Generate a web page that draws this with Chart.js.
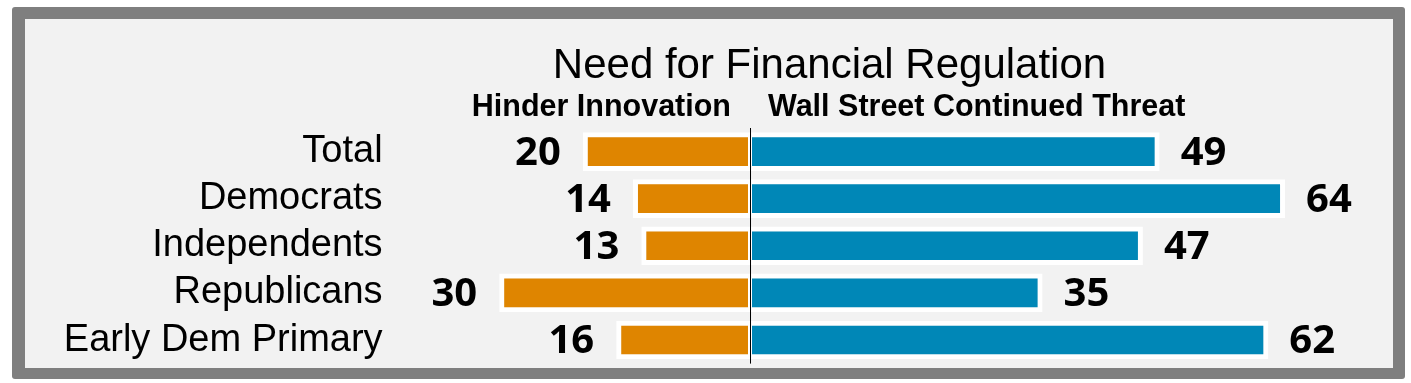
<!DOCTYPE html>
<html>
<head>
<meta charset="utf-8">
<script src="https://cdn.jsdelivr.net/npm/chart.js@4/dist/chart.umd.min.js"></script>
<style>
  html, body { margin: 0; padding: 0; background: #ffffff; }
  canvas { display: block; }
</style>
</head>
<body>
<canvas id="c" width="1411" height="383"></canvas>
<script>
const categories = ['Total', 'Democrats', 'Independents', 'Republicans', 'Early Dem Primary'];
const hinderInnovation = [20, 14, 13, 30, 16];
const wallStreetThreat = [49, 64, 47, 35, 62];
const chartTitle = 'Need for Financial Regulation';
const leftHeader = 'Hinder Innovation';
const rightHeader = 'Wall Street Continued Threat';
const xMin = -40, xMax = 70;

const ORANGE = '#DF8500';
const BLUE = '#0087B7';
const SANS = '"Liberation Sans", Arial, sans-serif';
const NUMFONT = '"Open Sans", "Liberation Sans", sans-serif';

const framePlugin = {
  id: 'frame',
  beforeDraw(chart) {
    const ctx = chart.ctx;
    ctx.save();
    ctx.fillStyle = '#ffffff';
    ctx.fillRect(0, 0, chart.width, chart.height);
    ctx.fillStyle = '#7F7F7F';
    ctx.beginPath();
    ctx.roundRect(12, 7, 1393, 372, 3);
    ctx.fill();
    ctx.fillStyle = '#F2F2F2';
    ctx.fillRect(25, 19, 1368, 349);
    ctx.restore();
  }
};

const overlayPlugin = {
  id: 'overlay',
  afterDatasetsDraw(chart) {
    const ctx = chart.ctx;
    const xs = chart.scales.x;
    const area = chart.chartArea;
    const x0 = Math.round(xs.getPixelForValue(0)) + 0.5;
    ctx.save();
    // zero line
    ctx.strokeStyle = '#000000';
    ctx.lineWidth = 1;
    ctx.beginPath();
    ctx.moveTo(x0, area.top);
    ctx.lineTo(x0, area.bottom);
    ctx.stroke();
    // value labels
    ctx.fillStyle = '#000000';
    ctx.font = 'bold 40px ' + NUMFONT;
    ctx.textBaseline = 'middle';
    chart.data.datasets.forEach((ds, di) => {
      const meta = chart.getDatasetMeta(di);
      meta.data.forEach((bar, i) => {
        const v = ds.data[i];
        const txt = String(Math.abs(v));
        if (v < 0) {
          ctx.textAlign = 'right';
          ctx.fillText(txt, bar.x - 22, bar.y + 2);
        } else {
          ctx.textAlign = 'left';
          ctx.fillText(txt, bar.x + 21, bar.y + 2);
        }
      });
    });
    // title and column headers
    ctx.textBaseline = 'alphabetic';
    ctx.textAlign = 'center';
    ctx.font = '42px ' + SANS;
    ctx.fillText(chartTitle, 829.5, 78);
    ctx.font = 'bold 30.5px ' + SANS;
    ctx.textAlign = 'right';
    ctx.fillText(leftHeader, 731, 116);
    ctx.textAlign = 'left';
    ctx.fillText(rightHeader, 768, 116);
    ctx.restore();
  }
};

new Chart(document.getElementById('c'), {
  type: 'bar',
  data: {
    labels: categories,
    datasets: [
      {
        label: leftHeader,
        data: hinderInnovation.map(v => -v),
        backgroundColor: ORANGE,
        borderColor: '#ffffff',
        borderWidth: { top: 5, bottom: 5, left: 5, right: 2 },
        borderSkipped: false
      },
      {
        label: rightHeader,
        data: wallStreetThreat,
        backgroundColor: BLUE,
        borderColor: '#ffffff',
        borderWidth: { top: 5, bottom: 5, left: 2, right: 5 },
        borderSkipped: false
      }
    ]
  },
  options: {
    indexAxis: 'y',
    responsive: false,
    animation: false,
    devicePixelRatio: 1,
    layout: { padding: { left: 0, right: 75.8, top: 128, bottom: 19.4 } },
    datasets: { bar: { categoryPercentage: 1, barPercentage: 0.82 } },
    scales: {
      x: { display: false, stacked: true, min: xMin, max: xMax },
      y: {
        stacked: true,
        grid: { display: false, drawTicks: false },
        border: { display: false },
        ticks: {
          color: '#000000',
          font: { family: SANS, size: 38 },
          padding: 33,
          autoSkip: false
        },
        afterFit(scale) {
          scale.width = 415.6;
          scale.paddingTop = 0;
          scale.paddingBottom = 0;
        }
      }
    },
    plugins: {
      legend: { display: false },
      tooltip: { enabled: false },
      title: { display: false }
    }
  },
  plugins: [framePlugin, overlayPlugin]
});
</script>
</body>
</html>
